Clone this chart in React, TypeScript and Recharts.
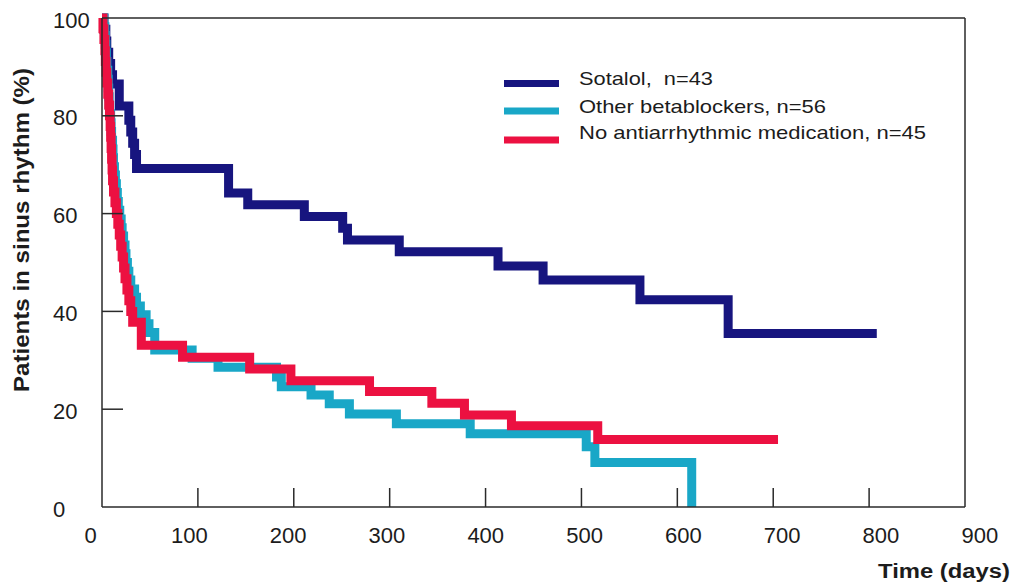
import React from "react";
import { LineChart, Line, XAxis, YAxis, Legend } from "recharts";

// Kaplan-Meier style survival in sinus rhythm
const xTicks = [0, 100, 200, 300, 400, 500, 600, 700, 800, 900];
const yTicks = [0, 20, 40, 60, 80, 100];

// [time (days), % in sinus rhythm]
const sotalol: [number, number][] = [
  [0, 100], [2, 97.7], [4, 95.3], [5, 93], [7, 90.7], [9, 88.4], [11, 86.5],
  [18, 82], [28, 79.1], [30, 76.7], [32, 74.4], [34, 72.1], [36, 69.2],
  [132, 64.2], [152, 61.8], [211, 59.4], [251, 57], [256, 54.6], [310, 52.2],
  [413, 49.3], [460, 46.4], [561, 42.4], [653, 35.5], [808, 35.5],
];

const otherBeta: [number, number][] = [
  [0, 100], [2, 98.2], [3, 96.4], [3.5, 94.6], [4, 92.9], [4.5, 91.1], [5, 89.3],
  [6, 87.5], [6.5, 85.7], [7, 83.9], [7.5, 82.1], [8, 80.4], [9, 78.6], [9.5, 76.8],
  [10, 75], [11, 73.2], [11.5, 71.4], [12, 69.6], [13, 67.9], [14, 66.1], [15, 64.3],
  [16, 62.5], [17, 60.7], [18.5, 58.9], [20, 57.1], [21, 55.4], [22.5, 53.6],
  [24, 51.8], [25, 50], [26.5, 48.2], [28, 46.4], [30, 44.6], [34, 42.9], [36, 41.1],
  [40, 39.3], [46, 37.5], [49, 35.7], [55, 32.1], [94, 30.4], [121, 28.6],
  [182, 26.6], [187, 24.6], [218, 22.9], [237, 21.1], [258, 19], [307, 17],
  [384, 15], [505, 12.3], [514, 9.1], [615, 0],
];

const noMed: [number, number][] = [
  [0, 100], [1, 97.8], [2, 95.6], [3, 93.3], [3.5, 91.1], [4.2, 88.9], [5, 86.7],
  [6, 84.4], [7, 82.2], [7.8, 80], [8.5, 77.8], [9, 75.6], [9.5, 73.3], [10, 71.1],
  [10.5, 68.9], [11, 66.7], [12, 64.4], [13.5, 62.2], [15, 60], [16.5, 57.8],
  [18, 55.6], [19.5, 53.3], [21, 51.1], [22.5, 48.9], [24, 46.7], [26, 44.4],
  [28, 42.2], [30, 40], [32, 37.8], [41, 33.1], [84, 30.6], [154, 28.2],
  [197, 25.8], [279, 23.6], [344, 21.2], [378, 18.8], [427, 16.6], [517, 13.8],
  [705, 13.8],
];

const seriesNames = [
  "Sotalol,  n=43",
  "Other betablockers, n=56",
  "No antiarrhythmic medication, n=45",
];
const seriesColors = ["#17157f", "#19a7c7", "#ec1141"];
// measured text widths in the figure, legend labels are a bit stretched
const legendWidths = [134, 247, 347];

const toPts = (a: [number, number][]) => a.map(([t, s]) => ({ t, s }));

const AXIS = "#2a2a2a";
const TEXT = "#1c1c1c";
const FONT = "'Liberation Sans', Arial, Helvetica, sans-serif";

const W = 1016;
const H = 585;
// plot box: x 102..965, y 18..507 (axes take 50 / 1 / 30 / 1 px of it)
const M = { top: 17, right: 50, bottom: 48, left: 52 };
const PLOT_BOTTOM = 507;
const PLOT_TOP = 18;
const PLOT_LEFT = 102;
const PLOT_RIGHT = 965;

function BottomTick({ x, payload }: any) {
  const v = payload.value;
  return (
    <g>
      {v > 0 && v < 900 && (
        <line x1={x} y1={PLOT_BOTTOM} x2={x} y2={PLOT_BOTTOM - 19} stroke={AXIS} strokeWidth={1.5} />
      )}
      <text
        x={x - 11.5 + v * 0.0292}
        y={543}
        textAnchor="middle"
        fontSize={22}
        fontFamily={FONT}
        fill={TEXT}
      >
        {v}
      </text>
    </g>
  );
}

function TopTick({ x, payload }: any) {
  const v = payload.value;
  if (v <= 0 || v >= 900) return <g />;
  return <line x1={x} y1={PLOT_TOP} x2={x} y2={PLOT_TOP + 18} stroke={AXIS} strokeWidth={1.5} />;
}

function LeftTick({ y, payload }: any) {
  const v = payload.value;
  return (
    <g>
      {v > 0 && v < 100 && (
        <line x1={PLOT_LEFT} y1={y} x2={PLOT_LEFT + 21} y2={y} stroke={AXIS} strokeWidth={1.5} />
      )}
      <text x={53} y={y + 9.5} textAnchor="start" fontSize={22} fontFamily={FONT} fill={TEXT}>
        {v}
      </text>
    </g>
  );
}

function RightTick({ y, payload }: any) {
  const v = payload.value;
  if (v <= 0 || v >= 100) return <g />;
  return <line x1={PLOT_RIGHT} y1={y} x2={PLOT_RIGHT - 21} y2={y} stroke={AXIS} strokeWidth={1.5} />;
}

function KmLegend({ payload }: any) {
  const items = payload || [];
  return (
    <svg width={480} height={110} style={{ display: "block" }}>
      {items.map((p: any, i: number) => {
        const idx = seriesNames.indexOf(p.value);
        const k = idx >= 0 ? idx : i;
        const ly = [33.5, 61, 90][k];
        const ty = [35, 63, 89][k];
        return (
          <g key={p.value}>
            <line x1={24} y1={ly} x2={79} y2={ly} stroke={p.color} strokeWidth={7} />
            <text
              x={99}
              y={ty}
              fontSize={19}
              fontFamily={FONT}
              fill={TEXT}
              textLength={legendWidths[k]}
              lengthAdjust="spacingAndGlyphs"
              style={{ whiteSpace: "pre" }}
            >
              {p.value}
            </text>
          </g>
        );
      })}
    </svg>
  );
}

const axisLine = { stroke: AXIS, strokeWidth: 1.5 };

export default function App() {
  const series = [sotalol, otherBeta, noMed];
  return (
    <div style={{ width: W, height: H, background: "#fff" }}>
      <style>{"body{margin:0}"}</style>
      <LineChart width={W} height={H} margin={M}>
        <XAxis
          xAxisId="b"
          dataKey="t"
          type="number"
          domain={[0, 900]}
          ticks={xTicks}
          height={30}
          tickSize={0}
          tickMargin={0}
          tickLine={false}
          axisLine={axisLine}
          tick={<BottomTick />}
          interval={0}
        />
        <XAxis
          xAxisId="top"
          orientation="top"
          dataKey="t"
          type="number"
          domain={[0, 900]}
          ticks={xTicks}
          height={1}
          tickSize={0}
          tickMargin={0}
          tickLine={false}
          axisLine={axisLine}
          tick={<TopTick />}
          interval={0}
        />
        <YAxis
          yAxisId="l"
          type="number"
          domain={[0, 100]}
          ticks={yTicks}
          width={50}
          tickSize={0}
          tickMargin={0}
          tickLine={false}
          axisLine={axisLine}
          tick={<LeftTick />}
          interval={0}
        />
        <YAxis
          yAxisId="r"
          orientation="right"
          type="number"
          domain={[0, 100]}
          ticks={yTicks}
          width={1}
          tickSize={0}
          tickMargin={0}
          tickLine={false}
          axisLine={axisLine}
          tick={<RightTick />}
          interval={0}
        />

        {series.map((d, i) => (
          <Line
            key={seriesNames[i]}
            xAxisId="b"
            yAxisId="l"
            data={toPts(d)}
            dataKey="s"
            name={seriesNames[i]}
            type="stepAfter"
            stroke={seriesColors[i]}
            strokeWidth={9}
            dot={false}
            activeDot={false}
            isAnimationActive={false}
          />
        ))}

        <Legend
          layout="horizontal"
          verticalAlign="middle"
          align="center"
          content={<KmLegend />}
          wrapperStyle={{ left: 480, top: 50, width: 480, height: 110 }}
        />

        <text
          transform="translate(29, 230) rotate(-90)"
          textAnchor="middle"
          fontSize={22}
          fontWeight="bold"
          fontFamily={FONT}
          fill={TEXT}
          textLength={324}
          lengthAdjust="spacingAndGlyphs"
        >
          Patients in sinus rhythm (%)
        </text>
        <text
          x={1010}
          y={578}
          textAnchor="end"
          fontSize={20}
          fontWeight="bold"
          fontFamily={FONT}
          fill={TEXT}
          textLength={132}
          lengthAdjust="spacingAndGlyphs"
        >
          Time (days)
        </text>
      </LineChart>
    </div>
  );
}
